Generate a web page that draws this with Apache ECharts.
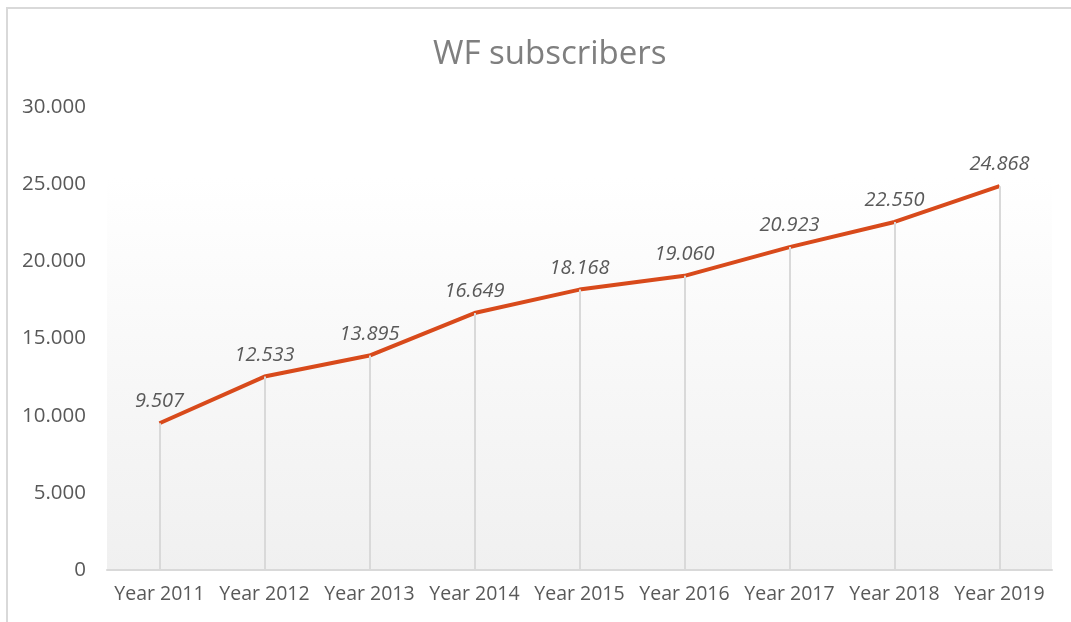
<!DOCTYPE html>
<html lang="en">
<head>
    <meta charset="UTF-8">
    <script src="https://cdn.jsdelivr.net/npm/echarts@6/dist/echarts.min.js"></script>
    <title>WF subscribers</title>
    <style>
        html, body { margin: 0; padding: 0; background: #fff; }
        #chart { width: 1071px; height: 622px; }
    </style>
</head>
<body>
<div id="chart"></div>
<script type="text/javascript">
    var years = ['Year 2011', 'Year 2012', 'Year 2013', 'Year 2014', 'Year 2015',
                 'Year 2016', 'Year 2017', 'Year 2018', 'Year 2019'];
    var subscribers = [9507, 12533, 13895, 16649, 18168, 19060, 20923, 22550, 24868];
    var yTicks = [0, 5000, 10000, 15000, 20000, 25000, 30000];

    // 9507 -> "9.507"
    function fmt(v) {
        return String(v).replace(/\B(?=(\d{3})+(?!\d))/g, '.');
    }

    // vertical drop lines from each point down to the axis
    var dropLines = [];
    for (var i = 0; i < subscribers.length; i++) {
        dropLines.push([{coord: [i, 0]}, {coord: [i, subscribers[i]]}]);
    }

    var myChart = echarts.init(document.getElementById('chart'));
    var option = {
        backgroundColor: '#fff',
        textStyle: { fontFamily: 'Open Sans' },
        title: {
            text: 'WF subscribers',
            left: 428,
            top: 33,
            textStyle: {
                color: '#7f7f7f',
                fontSize: 33,
                fontWeight: 'normal',
                fontFamily: 'Open Sans'
            }
        },
        graphic: [{
            type: 'rect',
            shape: { x: 7, y: 8, width: 1200, height: 800 },
            style: { fill: 'none', stroke: '#d9d9d9', lineWidth: 2 },
            silent: true
        }],
        grid: {
            left: 107,
            right: 19,
            top: 107,
            bottom: 52,
            show: true,
            borderWidth: 0,
            backgroundColor: new echarts.graphic.LinearGradient(0, 0, 0, 1, [
                {offset: 0, color: '#ffffff'},
                {offset: 0.15, color: '#ffffff'},
                {offset: 1, color: '#f0f0f0'}
            ])
        },
        xAxis: {
            type: 'category',
            data: years,
            boundaryGap: true,
            axisTick: { show: false },
            axisLine: { lineStyle: { color: '#d9d9d9', width: 2 } },
            splitLine: { show: false },
            axisLabel: {
                interval: 0,
                color: '#595959',
                fontSize: 19.5,
                margin: 14,
                fontFamily: 'Open Sans'
            }
        },
        yAxis: {
            type: 'value',
            min: yTicks[0],
            max: yTicks[yTicks.length - 1],
            interval: 5000,
            axisLine: { show: false },
            axisTick: { show: false },
            splitLine: { show: false },
            axisLabel: {
                color: '#595959',
                fontSize: 20.5,
                margin: 21,
                fontFamily: 'Open Sans',
                formatter: function (v) { return fmt(v); }
            }
        },
        series: [{
            name: 'WF subscribers',
            type: 'line',
            data: subscribers,
            symbol: 'circle',
            symbolSize: 1,
            showSymbol: true,
            lineStyle: { color: '#d84a1b', width: 4 },
            itemStyle: { color: '#d84a1b' },
            label: {
                show: true,
                position: 'top',
                distance: 11,
                color: '#595959',
                fontSize: 20,
                fontStyle: 'italic',
                fontFamily: 'Open Sans',
                formatter: function (p) { return fmt(p.value); }
            },
            markLine: {
                silent: true,
                symbol: 'none',
                label: { show: false },
                lineStyle: { color: '#d9d9d9', width: 2, type: 'solid' },
                data: dropLines
            },
            z: 3
        }]
    };
    myChart.setOption(option);
</script>
</body>
</html>
